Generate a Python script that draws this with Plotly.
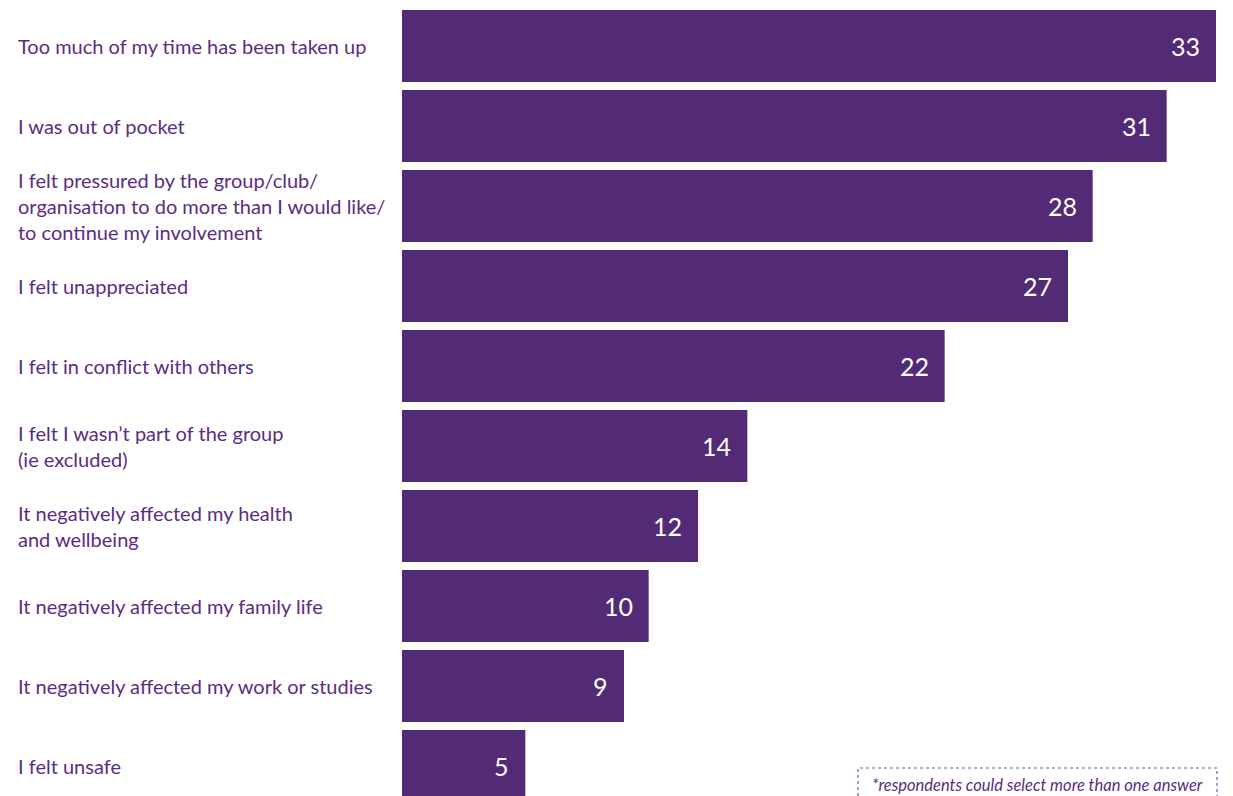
import plotly.graph_objects as go

categories = [
    "Too much of my time has been taken up",
    "I was out of pocket",
    "I felt pressured by the group/club/<br>organisation to do more than I would like/<br>to continue my involvement",
    "I felt unappreciated",
    "I felt in conflict with others",
    "I felt I wasn’t part of the group<br>(ie excluded)",
    "It negatively affected my health<br>and wellbeing",
    "It negatively affected my family life",
    "It negatively affected my work or studies",
    "I felt unsafe",
]
values = [33, 31, 28, 27, 22, 14, 12, 10, 9, 5]
footnote = "*respondents could select more than one answer"

BAR = "#532a76"
TXT = "#5a2d82"
FONT = "Lato"

OFF = 8  # page body margin
W, H = 1233 - OFF, 796 - OFF
ml, mr, mt, mb = 402 - OFF, 10, 0, 0
plot_w = W - ml - mr
plot_h = H - mt - mb
px_per_unit = 814 / 33
xmax = plot_w / px_per_unit

band = 80.0
top_center = 46 - OFF
y_top = (0 - top_center) / band
y_bot = y_top + plot_h / band

ypos = list(range(len(categories)))
fig = go.Figure(go.Bar(
    x=values, y=ypos, orientation="h",
    marker=dict(color=BAR, line=dict(width=0)),
    width=0.9, hoverinfo="skip",
))

ann = []
for i, (c, v) in enumerate(zip(categories, values)):
    ann.append(dict(x=-(ml - (16 - OFF)) / plot_w, xref="paper", y=i, yref="y",
                    text=c, showarrow=False, xanchor="left", yanchor="middle",
                    align="left", font=dict(family=FONT, size=20, color=TXT)))
    ann.append(dict(x=v, xref="x", y=i, yref="y", text=str(v), showarrow=False,
                    xanchor="right", yanchor="middle", xshift=-14,
                    font=dict(family=FONT, size=25, color="white")))

def px_to_paper_x(px):
    return (px - OFF - ml) / plot_w

def px_to_paper_y(py):
    return 1 - (py - OFF - mt) / plot_h

x0p = px_to_paper_x(858)
x1p = px_to_paper_x(1217)
ann.append(dict(x=(x0p + x1p) / 2, xref="paper", y=px_to_paper_y(785), yref="paper",
                text="<i>" + footnote + "</i>", showarrow=False, xanchor="center", yanchor="middle",
                font=dict(family=FONT, size=16.5, color=TXT)))

fig.add_shape(type="rect", xref="paper", yref="paper",
              x0=x0p, x1=x1p, y0=px_to_paper_y(805), y1=px_to_paper_y(768),
              line=dict(color="#7a5a9e", width=1.2, dash="dot"), fillcolor="rgba(0,0,0,0)")

fig.update_layout(
    width=W, height=H,
    margin=dict(l=ml, r=mr, t=mt, b=mb),
    paper_bgcolor="white", plot_bgcolor="white",
    showlegend=False,
    xaxis=dict(range=[0, xmax], visible=False, fixedrange=True),
    yaxis=dict(range=[y_bot, y_top], visible=False, fixedrange=True),
    annotations=ann,
    bargap=0.1,
)

fig.write_html("out.html")
